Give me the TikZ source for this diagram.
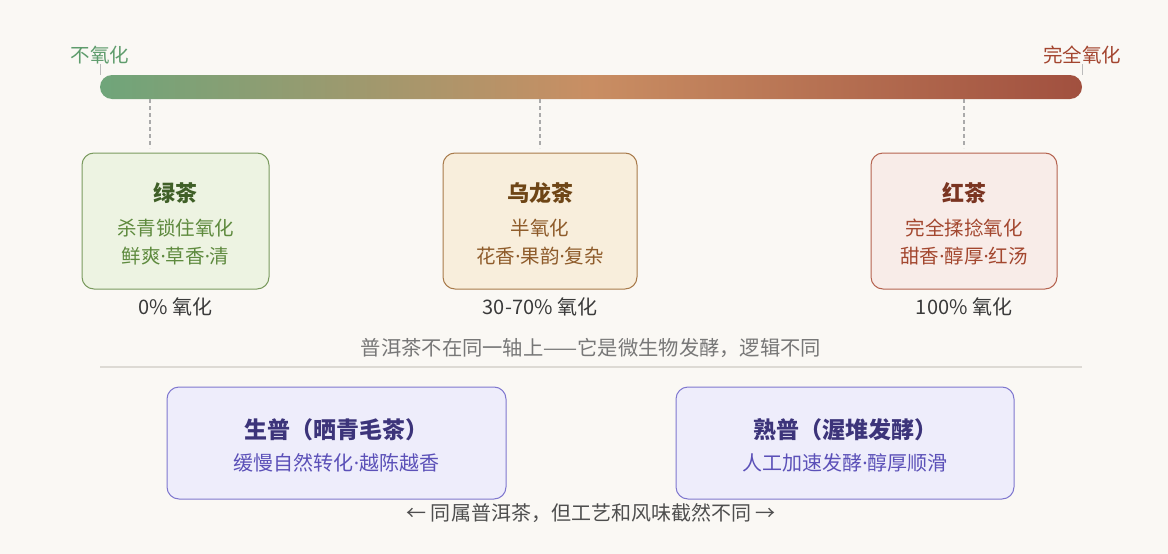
\documentclass[tikz,border=0pt]{standalone}
\usepackage{fontspec}
\setmainfont{Noto Sans CJK SC}
\newfontfamily\latinfont{Noto Sans}
\newcommand{\md}{{\latinfont ·}}
\definecolor{bg}{HTML}{FAF8F4}
\definecolor{gA}{HTML}{6FA57A}
\definecolor{gB}{HTML}{C98E63}
\definecolor{gC}{HTML}{A1503F}
\definecolor{grFill}{HTML}{EDF3E2}
\definecolor{grDraw}{HTML}{7A9A5E}
\definecolor{grTitle}{HTML}{3F5F27}
\definecolor{grText}{HTML}{5E8A3E}
\definecolor{olFill}{HTML}{F8EEDC}
\definecolor{olDraw}{HTML}{A87A4A}
\definecolor{olTitle}{HTML}{6E4516}
\definecolor{olText}{HTML}{8E5B2A}
\definecolor{rdFill}{HTML}{F8ECE8}
\definecolor{rdDraw}{HTML}{B5634F}
\definecolor{rdTitle}{HTML}{7A3421}
\definecolor{rdText}{HTML}{A3472F}
\definecolor{puFill}{HTML}{EEEDFB}
\definecolor{puDraw}{HTML}{7F77CF}
\definecolor{puTitle}{HTML}{3C347A}
\definecolor{puText}{HTML}{5B50B8}
\definecolor{axL}{HTML}{5E9C6C}
\definecolor{axR}{HTML}{A3452F}
\definecolor{dark}{HTML}{3A3A3A}
\definecolor{midgrey}{HTML}{777777}
\definecolor{sepgrey}{HTML}{DDDAD4}
\definecolor{dashgrey}{HTML}{AAAAAA}
\begin{document}
\begin{tikzpicture}[x=1pt,y=-1pt,
  every node/.style={inner sep=0pt, outer sep=0pt},
  card/.style={rounded corners=12pt, line width=1pt},
  ttl/.style={font=\fontsize{22}{26}\selectfont\bfseries},
  bigttl/.style={font=\fontsize{23}{27}\selectfont\bfseries},
  txt/.style={font=\fontsize{19.5}{23}\selectfont},
  pct/.style={font=\fontsize{20}{24}\selectfont, text=dark},
  dashline/.style={draw=dashgrey, line width=1.3pt, dash pattern=on 4pt off 3pt},
  tickline/.style={draw=dashgrey!80, line width=1pt}
]
\fill[bg] (0,0) rectangle (1168,554);
\useasboundingbox (0,0) rectangle (1168,554);

% gradient bar
\node[rounded corners=12pt, minimum width=982pt, minimum height=24pt,
      left color=gA, right color=gC, middle color=gB] (bar) at (591,87) {};
\node[txt, text=axL] (lblL) at (100,55) {不氧化};
\node[txt, text=axR] (lblR) at (1082,55) {完全氧化};
\draw[tickline] (lblL.south) -- (lblL.south |- bar.north);
\draw[tickline] (lblR.south) -- (lblR.south |- bar.north);

% cards
\node[card, fill=grFill, draw=grDraw, minimum width=187pt, minimum height=136pt] (green) at (175.5,221) {};
\node[card, fill=olFill, draw=olDraw, minimum width=194pt, minimum height=136pt] (oolong) at (540,221) {};
\node[card, fill=rdFill, draw=rdDraw, minimum width=186pt, minimum height=136pt] (red) at (964,221) {};

\coordinate (dG) at (150,221);
\draw[dashline, shorten >=5pt] (bar.south -| dG) -- (green.north -| dG);
\draw[dashline, shorten >=5pt] (bar.south -| oolong.north) -- (oolong.north);
\draw[dashline, shorten >=5pt] (bar.south -| red.north) -- (red.north);

\node[ttl, text=grTitle] (gT) at (175.5,193) {绿茶};
\node[txt, text=grText] (g1) at (175.5,228) {杀青锁住氧化};
\node[txt, text=grText] (g2) at (175.5,256) {鲜爽\md 草香\md 清};
\node[pct] (gP) at (175.5,307) {0\% 氧化};

\node[ttl, text=olTitle] (oT) at (540,193) {乌龙茶};
\node[txt, text=olText] (o1) at (540,228) {半氧化};
\node[txt, text=olText] (o2) at (540,256) {花香\md 果韵\md 复杂};
\node[pct] (oP) at (540,307) {30-70\% 氧化};

\node[ttl, text=rdTitle] (rT) at (964,193) {红茶};
\node[txt, text=rdText] (r1) at (964,228) {完全揉捻氧化};
\node[txt, text=rdText] (r2) at (964,256) {甜香\md 醇厚\md 红汤};
\node[pct] (rP) at (964,307) {100\% 氧化};

% separator
\node[font=\fontsize{20.3}{24}\selectfont, text=midgrey] (note) at (591,348) {普洱茶不在同一轴上——它是微生物发酵，逻辑不同};
\coordinate (sepL) at (100,367);
\coordinate (sepR) at (1082,367);
\draw[sepgrey, line width=2.5pt] (sepL) -- (sepR);

% pu-erh cards
\node[card, fill=puFill, draw=puDraw, minimum width=339pt, minimum height=112pt] (sheng) at (336.5,443) {};
\node[card, fill=puFill, draw=puDraw, minimum width=338pt, minimum height=112pt] (shou) at (845,443) {};
\node[bigttl, text=puTitle] (sT) at (336.5,430) {生普（晒青毛茶）};
\node[txt, font=\fontsize{20}{24}\selectfont, text=puText] (s1) at (336.5,463) {缓慢自然转化\md 越陈越香};
\node[bigttl, text=puTitle] (hT) at (845,430) {熟普（渥堆发酵）};
\node[txt, font=\fontsize{20}{24}\selectfont, text=puText] (h1) at (845,463) {人工加速发酵\md 醇厚顺滑};

\node[pct, text=dark!90] (foot) at (591,513) {← 同属普洱茶，但工艺和风味截然不同 →};
\end{tikzpicture}
\end{document}
